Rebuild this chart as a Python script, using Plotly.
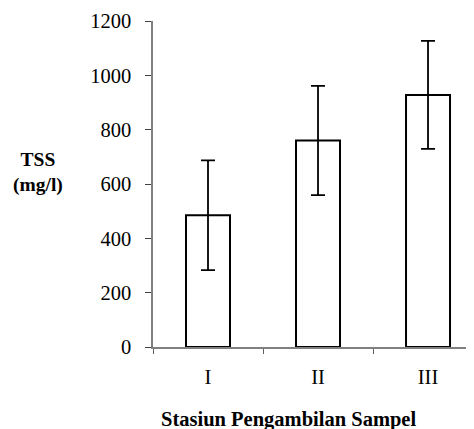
import plotly.graph_objects as go

categories = ["I", "II", "III"]
tss_values = [485, 760, 928]
tss_errors = [202, 201, 199]
y_ticks = [0, 200, 400, 600, 800, 1000, 1200]

serif = "Liberation Serif"

# page body has an 8px default margin; size the figure so the plot area lands
# where it sits in the reference
fig = go.Figure()
fig.add_trace(go.Bar(
    x=categories, y=tss_values,
    marker=dict(color="white", line=dict(color="black", width=2)),
    error_y=dict(type="data", array=tss_errors, visible=True,
                 color="black", thickness=1.8, width=7),
    width=0.4,
))

fig.update_layout(
    width=466, height=421,
    margin=dict(l=145, r=0, t=13, b=82),
    paper_bgcolor="white", plot_bgcolor="white",
    showlegend=False,
    font=dict(family=serif, size=20, color="black"),
    xaxis=dict(
        type="category", range=[-0.5, 2.418],
        showline=True, linecolor="#808080", linewidth=1.5,
        ticks="outside", tickson="boundaries", ticklen=5, tickcolor="#606060",
        showgrid=False, zeroline=False,
        tickfont=dict(family=serif, size=20.5, color="black"),
        ticklabelstandoff=11,
    ),
    yaxis=dict(
        range=[0, 1200], tickvals=y_ticks,
        showline=True, linecolor="#808080", linewidth=1.5,
        ticks="outside", ticklen=6, tickcolor="#404040",
        showgrid=False, zeroline=False,
        tickfont=dict(family=serif, size=20.5, color="black"),
        ticklabelstandoff=10,
    ),
    annotations=[
        dict(text="<b>TSS<br>(mg/l)</b>", xref="paper", yref="paper",
             x=(38 - 153) / 321, y=(347 - 172) / 326, xanchor="center", yanchor="middle",
             showarrow=False, font=dict(family=serif, size=19.5, color="black"),
             align="center"),
        dict(text="<b>Stasiun Pengambilan Sampel</b>", xref="paper", yref="paper",
             x=(288 - 153) / 321, y=(347 - 419) / 326, xanchor="center", yanchor="middle",
             showarrow=False, font=dict(family=serif, size=20.5, color="black")),
    ],
)

fig.write_html("out.html")
